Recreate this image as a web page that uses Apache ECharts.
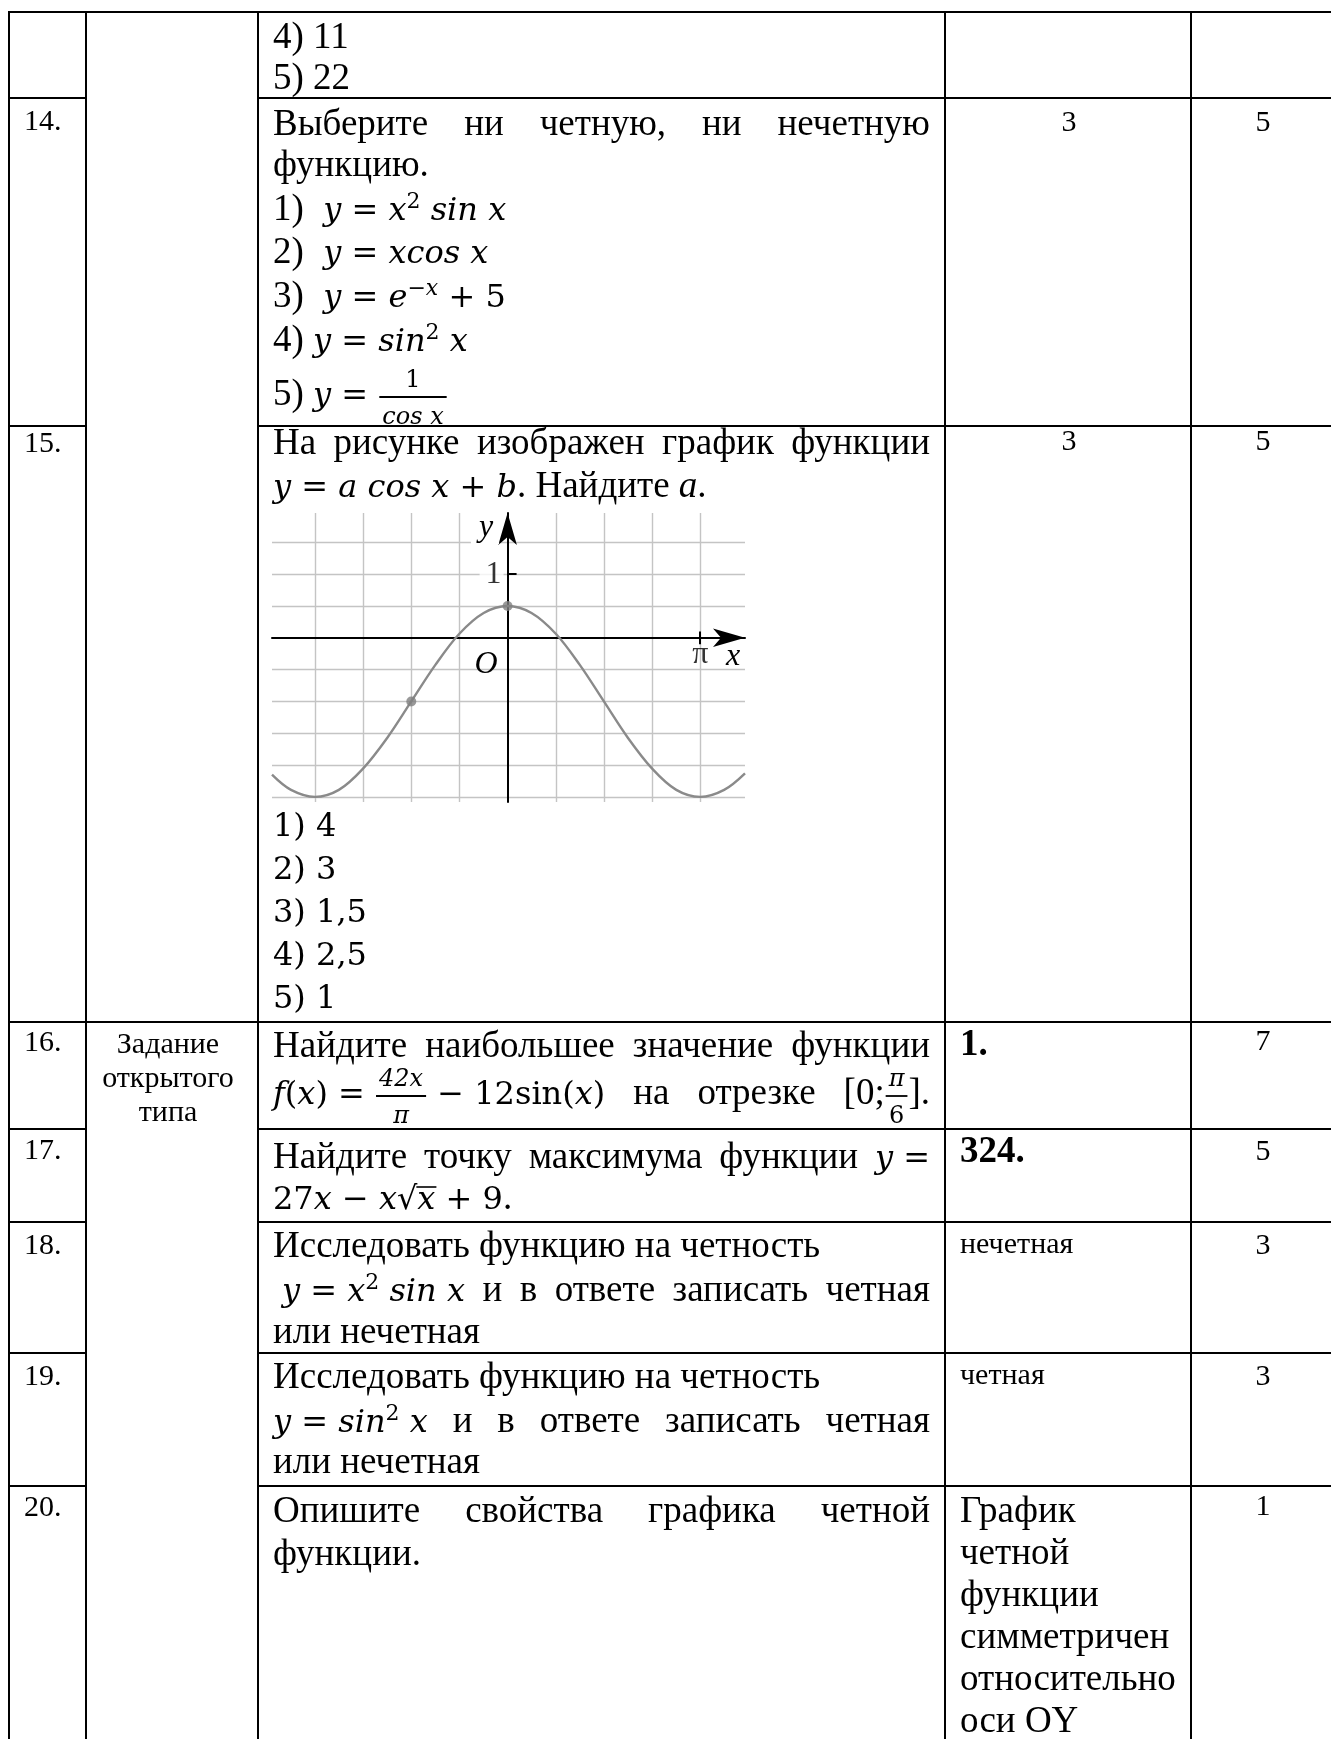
<!DOCTYPE html>
<html>
<head>
<meta charset="utf-8">
<script src="https://cdn.jsdelivr.net/npm/echarts@6/dist/echarts.min.js"></script>
<style>
  html, body { margin: 0; padding: 0; background: #fff; }
  #main { width: 1331px; height: 1739px; }
</style>
</head>
<body>
<div id="main"></div>
<script>
// curve of y = a cos x + b (x in radians)
const curveX = [-3.84, -3.53, -3.14, -2.75, -2.36, -1.96, -1.57, -1.18, -0.79, -0.39, 0,
                0.39, 0.79, 1.18, 1.57, 1.96, 2.36, 2.75, 3.14, 3.53, 3.87];
const curveY = [-2.15, -2.39, -2.5, -2.39, -2.06, -1.57, -1.0, -0.43, 0.06, 0.39, 0.5,
                0.39, 0.06, -0.43, -1.0, -1.57, -2.06, -2.39, -2.5, -2.39, -2.13];
// the two marked points
const dotX = [-1.57, 0];
const dotY = [-1, 0.5];
// grid lines of the squared paper
const gridX = [-3.14, -2.36, -1.57, -0.79, 0.79, 1.57, 2.36, 3.14];
const gridY = [1.5, 1, 0.5, -0.5, -1, -1.5, -2, -2.5];
// axis marks
const xTicks = [3.14];
const xTickLabels = ['π'];
const yTicks = [1];
const yTickLabels = ['1'];

// table column texts
const rowNums = ['14.', '15.', '16.', '17.', '18.', '19.', '20.'];
const levels = ['3', '3'];
const points = ['5', '5', '7', '5', '3', '3', '1'];
const answer20 = ['График', 'четной', 'функции', 'симметричен', 'относительно', 'оси OY'];

const FONTS = {
    n: '37px "Liberation Serif"',
    b: 'bold 37px "Liberation Serif"',
    i: 'italic 37px "Liberation Serif"',
    s: '30px "Liberation Serif"',
    m: 'italic 32px "DejaVu Serif"',
    mu: '32px "DejaVu Serif"',
    sup: 'italic 22px "DejaVu Serif"',
    supu: '22px "DejaVu Serif"',
    fr: 'italic 24px "DejaVu Serif"',
    fru: '24px "DejaVu Serif"'
};
const size = f => parseFloat(FONTS[f].match(/(\d+)px/)[1]);

const ctx = document.createElement('canvas').getContext('2d');
function measure(t, f) {
    ctx.font = FONTS[f];
    return ctx.measureText(t).width;
}

const els = [];

function text(x, base, t, f, align) {
    els.push({
        type: 'text', x: x, y: base - 0.34 * size(f), z: 10, silent: true,
        style: {text: t, font: FONTS[f], fill: '#000', textAlign: align || 'left', textVerticalAlign: 'middle'}
    });
}
function seg(x1, y1, x2, y2, w) {
    els.push({
        type: 'line', z: 10, silent: true,
        shape: {x1: x1, y1: y1, x2: x2, y2: y2},
        style: {stroke: '#000', lineWidth: w || 2}
    });
}

const N = t => ({t: t, f: 'n'});
const I = t => ({t: t, f: 'i'});
const M = t => ({t: t, f: 'm'});
const MU = t => ({t: t, f: 'mu'});
const SUP = (t, f) => ({t: t, f: f || 'supu', dy: -13});
const FR = (a, b, fa, fb) => ({fr: [a, b], f: fa, f2: fb});

function pieceW(p) {
    if (p.fr) return Math.max(measure(p.fr[0], p.f), measure(p.fr[1], p.f2)) + 8;
    return measure(p.t, p.f);
}
function drawPiece(x, base, p) {
    if (p.fr) {
        const wd = pieceW(p);
        const bar = base - 11;
        seg(x + 1, bar, x + wd - 1, bar, 1.8);
        text(x + wd / 2, bar - 8, p.fr[0], p.f, 'center');
        text(x + wd / 2, bar + 29, p.fr[1], p.f2, 'center');
        return;
    }
    text(x, base + (p.dy || 0), p.t, p.f);
    if (p.over) seg(x - 1, base - 25, x + pieceW(p) + 1, base - 25, 1.6);
}

const LEFT = 273, RIGHT = 930;
function layLine(x, base, words, justify) {
    if (typeof words === 'string') words = words.split(' ');
    words = words.map(wd => typeof wd === 'string' ? [N(wd)] : wd);
    const widths = words.map(wd => wd.reduce((s, p) => s + pieceW(p), 0));
    const total = widths.reduce((a, b) => a + b, 0);
    const gap = justify && words.length > 1 ? (RIGHT - x - total) / (words.length - 1) : measure(' ', 'n');
    let cx = x;
    words.forEach(wd => {
        wd.forEach(p => {
            drawPiece(cx, base, p);
            cx += pieceW(p);
        });
        cx += gap;
    });
}

// ---- table frame
const colX = [9, 86, 258, 945, 1191];
const rowY = [12, 98, 426, 1022, 1129, 1222, 1353, 1486];
rowY.forEach(y => {
    if (y === 12 || y === 1022) {
        seg(8, y, 1331, y);
    } else {
        seg(8, y, 87, y);
        seg(257, y, 1331, y);
    }
});
colX.forEach(x => seg(x, 11, x, 1739));

// ---- small column texts
const numBase = [132, 454, 1053, 1161, 1256, 1387, 1518];
rowNums.forEach((t, k) => text(24, numBase[k], t, 's'));
const ptBase = [133, 452, 1052, 1162, 1256, 1387, 1517];
levels.forEach((t, k) => text(1069, ptBase[k], t, 's', 'center'));
points.forEach((t, k) => text(1263, ptBase[k], t, 's', 'center'));
['Задание', 'открытого', 'типа'].forEach((t, k) => text(168, 1055 + 34 * k, t, 's', 'center'));

// ---- row 13 tail
layLine(LEFT, 51, '4) 11');
layLine(LEFT, 92, '5) 22');

// ---- row 14
layLine(LEFT, 138, ['Выберите', 'ни', 'четную,', 'ни', 'нечетную'], true);
layLine(LEFT, 179, 'функцию.');
layLine(LEFT, 223, ['1)', [M(' y = x'), SUP('2'), M(' sin x')]]);
layLine(LEFT, 266, ['2)', [M(' y = xcos x')]]);
layLine(LEFT, 310, ['3)', [M(' y = e'), SUP('−x', 'sup'), M(' + '), MU('5')]]);
layLine(LEFT, 354, ['4)', [M('y = sin'), SUP('2'), M(' x')]]);
layLine(LEFT, 408, ['5)', [M('y = '), FR('1', 'cos x', 'fru', 'fr')]]);

// ---- row 15
layLine(LEFT, 457, ['На', 'рисунке', 'изображен', 'график', 'функции'], true);
layLine(LEFT, 500, [[M('y = a cos x + b'), N('.')], 'Найдите', [I('a'), N('.')]]);
['1) 4', '2) 3', '3) 1,5', '4) 2,5', '5) 1'].forEach((t, k) => layLine(LEFT, 839 + 43 * k, [[MU(t)]]));

// ---- row 16
layLine(LEFT, 1060, ['Найдите', 'наибольшее', 'значение', 'функции'], true);
layLine(LEFT, 1107, [
    [M('f'), MU('('), M('x'), MU(') = '), FR('42x', 'π', 'fr', 'fr'), MU(' − 12sin('), M('x'), MU(')')],
    'на', 'отрезке',
    [N('[0;'), FR('π', '6', 'fr', 'fru'), N('].')]
], true);
text(960, 1058, '1.', 'b');

// ---- row 17
layLine(LEFT, 1171, ['Найдите', 'точку', 'максимума', 'функции', [M('y'), MU(' =')]], true);
layLine(LEFT, 1212, [[MU('27'), M('x'), MU(' − '), M('x'), MU('√'), {t: 'x', f: 'm', over: true}, MU(' + 9'), N('.')]]);
text(960, 1165, '324.', 'b');

// ---- row 18
layLine(LEFT, 1260, 'Исследовать функцию на четность');
layLine(LEFT + 9, 1304, [[M('y = x'), SUP('2'), M(' sin x')], 'и', 'в', 'ответе', 'записать', 'четная'], true);
layLine(LEFT, 1346, 'или нечетная');
text(960, 1255, 'нечетная', 's');

// ---- row 19
layLine(LEFT, 1391, 'Исследовать функцию на четность');
layLine(LEFT, 1435, [[M('y = sin'), SUP('2'), M(' x')], 'и', 'в', 'ответе', 'записать', 'четная'], true);
layLine(LEFT, 1476, 'или нечетная');
text(960, 1386, 'четная', 's');

// ---- row 20
layLine(LEFT, 1525, ['Опишите', 'свойства', 'графика', 'четной'], true);
layLine(LEFT, 1568, 'функции.');
answer20.forEach((t, k) => text(960, 1525 + 42 * k, t, 'n'));

// ---- letters of the small graph
els.push({type: 'text', x: 485, y: 528, z: 10, silent: true,
    style: {text: 'y', font: 'italic 32px "Liberation Serif"', fill: '#000', textAlign: 'center', textVerticalAlign: 'middle',
        backgroundColor: '#fff', padding: [0, 6, 0, 8]}});
els.push({type: 'text', x: 486, y: 665, z: 10, silent: true,
    style: {text: 'O', font: 'italic 32px "Liberation Serif"', fill: '#000', textAlign: 'center', textVerticalAlign: 'middle'}});
els.push({type: 'text', x: 733, y: 657, z: 10, silent: true,
    style: {text: 'x', font: 'italic 32px "Liberation Serif"', fill: '#000', textAlign: 'center', textVerticalAlign: 'middle'}});

const chart = echarts.init(document.getElementById('main'));

const axisArrow = {
    onZero: true,
    lineStyle: {color: '#000', width: 2},
    symbol: ['none', 'arrow'], symbolSize: [14, 32], symbolOffset: [0, 0]
};

// grid lines, then the short black tick across the x axis at π
const markData = gridX.map(v => ({xAxis: v}))
    .concat(gridY.map(v => ({yAxis: v})))
    .concat(xTicks.map(v => [
        {coord: [v, -0.1], lineStyle: {color: '#000', width: 2}},
        {coord: [v, 0.1]}
    ]));

const option = {
    backgroundColor: '#fff',
    animation: false,
    grid: {left: 272, top: 513, width: 473, height: 289},
    xAxis: {
        type: 'value', min: -3.84, max: 3.87, z: 2,
        axisLine: axisArrow,
        axisTick: {show: false},
        axisLabel: {show: false},
        splitLine: {show: false}
    },
    yAxis: {
        type: 'value', min: -2.58, max: 1.96, z: 2,
        axisLine: axisArrow,
        axisTick: {show: true, customValues: yTicks, inside: true, length: 9, lineStyle: {color: '#000', width: 2}},
        axisLabel: {show: false},
        splitLine: {show: false}
    },
    series: [
        {
            type: 'line',
            data: curveX.map((x, k) => [x, curveY[k]]),
            smooth: 0.35,
            showSymbol: false,
            z: 3,
            lineStyle: {color: '#8a8a8a', width: 2.4},
            markLine: {
                z: 1,
                silent: true,
                symbol: 'none',
                animation: false,
                label: {show: false},
                lineStyle: {type: 'solid', color: '#c4c4c4', width: 1.4},
                emphasis: {disabled: true},
                data: markData
            }
        },
        {
            type: 'scatter',
            data: dotX.map((x, k) => [x, dotY[k]]),
            symbolSize: 10,
            z: 4,
            itemStyle: {color: '#808080'}
        },
        {
            // tick labels "π" and "1", hung on the axes
            type: 'scatter',
            symbolSize: 0,
            z: 5,
            silent: true,
            data: xTicks.map((v, k) => ({value: [v, 0], name: xTickLabels[k],
                    label: {position: 'bottom', distance: 1}}))
                .concat(yTicks.map((v, k) => ({value: [0, v], name: yTickLabels[k],
                    label: {position: 'left', distance: 4, backgroundColor: '#fff', padding: [0, 2, 0, 6]}}))),
            label: {
                show: true,
                formatter: p => p.name,
                fontFamily: 'Liberation Serif', fontSize: 32, color: '#000'
            }
        }
    ],
    graphic: {elements: els}
};

chart.setOption(option, true);
</script>
</body>
</html>
